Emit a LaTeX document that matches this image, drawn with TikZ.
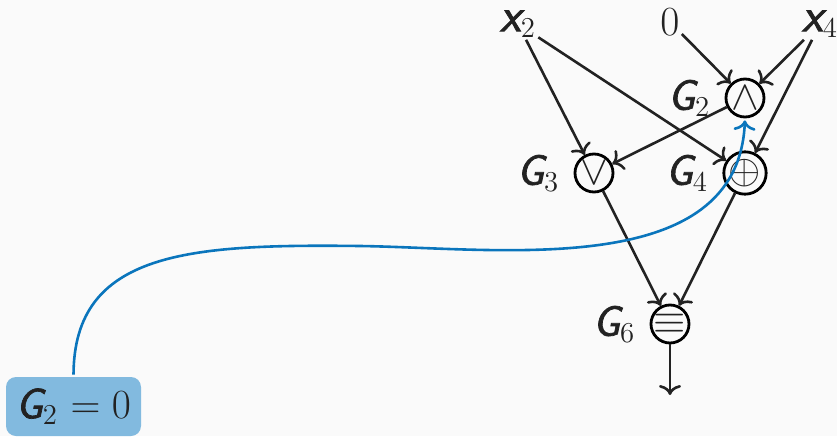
\documentclass[tikz,border=0pt]{standalone}
\usetikzlibrary{positioning,arrows.meta}
\definecolor{paper}{HTML}{FAFAFA}
\definecolor{ink}{HTML}{222222}
\definecolor{wireblue}{HTML}{0A75BC}
\definecolor{boxblue}{HTML}{82BADF}
\newcommand{\heavy}[1]{\special{pdf:code q 2 Tr 0.35 w}#1\special{pdf:code Q}}
\newcommand{\gvar}[2]{{\fontsize{21.5}{24}\selectfont\sffamily\itshape\heavy{#1}}$_{#2}$}
\newcommand{\xvar}[2]{{\fontsize{24}{24}\selectfont\sffamily\itshape\heavy{#1}}$_{#2}$}
\tikzset{
  gate/.style={circle,draw=black,line width=1.4pt,fill=paper,minimum size=19pt,inner sep=0pt,text=ink,font=\huge},
  gatename/.style={text=ink,font=\huge,inner sep=0pt,left=7pt of #1},
  source/.style={text=ink,font=\huge,inner sep=1pt},
  wire/.style={draw=ink,line width=1.3pt,-{Computer Modern Rightarrow[length=5pt,width=11pt]}},
  fixwire/.style={draw=wireblue,line width=1.3pt,-{Computer Modern Rightarrow[length=5pt,width=11pt]}},
}
\begin{document}
\begin{tikzpicture}[x=0.5pt,y=0.5pt]
\useasboundingbox[fill=paper] (0,0) rectangle (837,436);
% inputs
\node[source] (x2) at (518,412) {\xvar{x}{2}};
\node[source] (zero) at (670,414) {$0$};
\node[source] (x4) at (820,412) {\xvar{x}{4}};
% gates
\node[gate] (g2) at (745,338) {$\wedge$};
\node[gate] (g3) at (594,263) {$\vee$};
\node[gate] (g4) at (745,263) {$\oplus$};
\node[gate] (g6) at (670,112) {$\equiv$};
\node[gatename=g2] (g2name) {\gvar{G}{2}};
\node[gatename=g3] (g3name) {\gvar{G}{3}};
\node[gatename=g4] (g4name) {\gvar{G}{4}};
\node[gatename=g6] (g6name) {\gvar{G}{6}};
\coordinate (out) at (670,41);
\node[rounded corners=5pt,fill=boxblue,text=ink,font=\huge,minimum width=67.5pt,minimum height=29.5pt,inner sep=0pt] (fix) at (73.5,29.5) {\gvar{G}{2} $=0$};
% wires
\draw[wire] (x2) -- (g3);
\draw[wire] (x2) -- (g4);
\draw[wire] (zero) -- (g2);
\draw[wire] (x4) -- (g2);
\draw[wire] (x4) -- (g4);
\draw[wire] (g2) -- (g3);
\draw[wire] (g3) -- (g6);
\draw[wire] (g4) -- (g6);
\draw[wire] (g6) -- (out);
% fix goes back up to the gate
\coordinate (mid) at (360,190);
\draw[fixwire,shorten <=1pt,shorten >=1pt] (fix.north) .. controls (74,185) and (190,192) .. (mid) .. controls (500,188) and (738,155) .. (g2.south);
\end{tikzpicture}
\end{document}
